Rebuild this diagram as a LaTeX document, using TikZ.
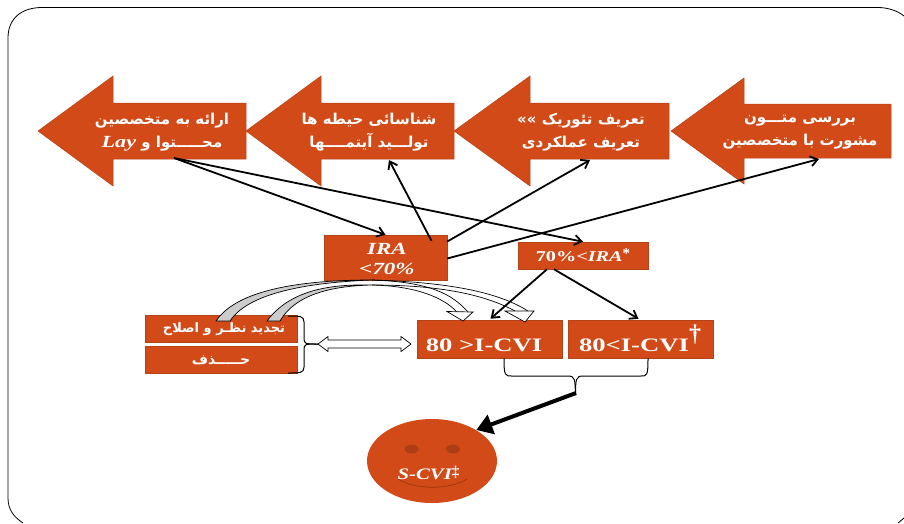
\documentclass[tikz,border=0pt]{standalone}
\usepackage{graphicx}
\usepackage{fontspec}
\usetikzlibrary{arrows.meta,shapes.geometric,calc}
\setmainfont{Liberation Serif}
\newfontfamily\fa[Script=Arabic]{DejaVu Sans}
\TeXXeTstate=1
\definecolor{rust}{HTML}{D14A17}
\definecolor{rustdk}{HTML}{B5431A}
\definecolor{eye}{HTML}{AE3D14}
\definecolor{smile}{HTML}{9E3610}
\newcommand{\R}[1]{{\fa\bfseries\beginR #1\endR}}
\newcommand{\Lat}[1]{\beginL #1\endL{}}
\newcommand{\sx}[2]{\scalebox{#1}[1]{#2}}
\tikzset{
  x=1pt,y=-1pt,
  shp/.style={fill=rust,draw=rustdk,line width=.5pt},
  lab/.style={text=white,align=center,font=\fa\bfseries\fontsize{15}{23}\selectfont,inner sep=0pt},
  lat/.style={text=white,inner sep=0pt,align=center,font=\rmfamily\bfseries\itshape\fontsize{17}{20}\selectfont},
  big/.style={text=white,inner sep=0pt,font=\rmfamily\bfseries\fontsize{19}{20}\selectfont},
  arr/.style={line width=1.8pt,-{Straight Barb[length=7pt,width=10pt,line width=1.8pt]}},
  hollow/.style={draw=black,fill=white,line width=.7pt},
  ribbon/.style={draw=black,fill=lightgray!80,line width=.7pt},
  shaft/.style={draw=black,line width=.7pt},
  bracestyle/.style={line width=1pt},
}
\begin{document}
\begin{tikzpicture}
\useasboundingbox (0,0) rectangle (904,523);
% frame
\draw[line width=.8pt,black] (23,523) .. controls (14,517) and (8,510) .. (8,498) -- (8,38) .. controls (8,18) and (22,7.5) .. (42,7.5) -- (878,7.5) .. controls (888,7.5) and (898,11) .. (904,16);
\draw[line width=.8pt,black] (898,523) -- (904,518);
% arrows
\path[shp] (38,131) -- (113,76) -- (113,103) -- (246,103) -- (246,159) -- (113,159) -- (113,186) -- cycle;
\path[shp] (246,131) -- (321,76) -- (321,103) -- (454,103) -- (454,159) -- (321,159) -- (321,186) -- cycle;
\path[shp] (454,131) -- (530,76) -- (530,103) -- (669,103) -- (669,159) -- (530,159) -- (530,186) -- cycle;
\path[shp] (671,131) -- (744,78) -- (744,104) -- (891,104) -- (891,158) -- (744,158) -- (744,184) -- cycle;
\node[lab] (a1) at (162,132) {\R{ارائه به متخصصین}\\\R{محـــــتوا و \Lat{\sx{1.3}{\fontsize{17}{20}\rmfamily\bfseries\itshape Lay}}}};
\node[lab] (a2) at (369,132) {\R{شناسائی حیطه ها}\\\R{تولـــید آیتمــــها}};
\node[lab] (a3) at (581,132) {\R{تعریف تئوریک »»}\\\R{تعریف عملکردی}};
\node[lab] (a4) at (800,132) {\R{بررسی متـــون}\\\R{مشورت با متخصصین}};
\coordinate (a1bot) at (174,158);
\coordinate (a2in) at (389,160);
\coordinate (a3in) at (590,160);
\coordinate (a4in) at (819,159);
% boxes
\node[shp,minimum width=123pt,minimum height=45pt,inner sep=0pt] (ira) at (385.5,257.5) {};
\node[lat] at (387,258.5) {\sx{1.35}{IRA}\\\sx{1.35}{<70\%}};
\node[shp,minimum width=130pt,minimum height=27pt,inner sep=0pt] (ira2) at (583,255.5) {};
\node[lat,font=\rmfamily\bfseries\fontsize{15}{18}\selectfont] at (583,255.5) {\sx{1.35}{70\%<\itshape IRA}\raisebox{.45ex}{\fontsize{15}{15}\selectfont *}};
\node[shp,minimum width=152pt,minimum height=27pt,inner sep=0pt] (fix) at (221,328.5) {};
\node[lab,font=\fa\bfseries\fontsize{13}{14}\selectfont] at (224,329) {\R{تجدید نظـر و اصلاح}};
\node[shp,minimum width=152pt,minimum height=27pt,inner sep=0pt] (del) at (221,360) {};
\node[lab,font=\fa\bfseries\fontsize{14}{15}\selectfont] at (221,360) {\R{حـــــذف}};
\node[shp,minimum width=145pt,minimum height=38pt,inner sep=0pt] (low) at (489.5,339) {};
\node[big] at (484,345) {\sx{1.4}{80 >I-CVI}};
\node[shp,minimum width=145pt,minimum height=38pt,inner sep=0pt] (high) at (640.5,339) {};
\node[big] at (634,345) {\sx{1.4}{80<I-CVI}};
\node[big,font=\rmfamily\bfseries\fontsize{24}{24}\selectfont] at (695,335) {\textdagger};
% smile
\node[shp,draw=none,ellipse,minimum width=130pt,minimum height=84pt,inner sep=0pt,fill=rust] (face) at (432,461) {};
\fill[eye] (411.5,449) ellipse (7 and 4.5);
\fill[eye] (453,449) ellipse (7 and 4.5);
\draw[smile,line width=.7pt] (398,479) .. controls (415,490) and (450,490) .. (467,479);
\node[lat,font=\rmfamily\bfseries\itshape\fontsize{16}{18}\selectfont] at (428.5,473) {\sx{1.3}{S-CVI}\raisebox{.45ex}{\fontsize{15}{15}\selectfont\upshape\textdaggerdbl}};
% connectors
\draw[arr] (a1bot) -- (ira.north);
\draw[arr] (a1bot) -- (ira2.north);
\draw[arr] ($(ira.north)+(46,6)$) -- (a2in);
\draw[arr] ($(ira.east)+(0,-16)$) -- (a3in);
\draw[arr] ($(ira.east)+(0,1)$) -- (a4in);
\draw[arr] ($(ira2.south)+(-36,0)$) -- ($(low.north)+(1,-1)$);
\draw[arr] ($(ira2.south)+(-29,0)$) -- ($(high.north)+(-2,-1)$);
% braces
\draw[bracestyle] (288,316) .. controls (300,316) and (304,316) .. (304,322) -- (304,338) .. controls (304,344) and (305,344) .. (318,344);
\draw[bracestyle] (288,373) .. controls (300,373) and (304,373) .. (304,367) -- (304,350) .. controls (304,344) and (305,344) .. (318,344);
\draw[bracestyle] (504,358) .. controls (504,376) and (505,376) .. (512,376) -- (568,376) .. controls (575,376) and (575,379) .. (575.5,395);
\draw[bracestyle] (648,358) .. controls (648,376) and (647,376) .. (641,376) -- (583,376) .. controls (576,376) and (575.5,379) .. (575.5,395);
% double arrow
\draw[hollow] (318,344) -- (328,336.5) -- (328,340) -- (401,340) -- (401,336.5) -- (411,344) -- (401,351.5) -- (401,348) -- (328,348) -- (328,351.5) -- cycle;
% thick
\draw[line width=4pt,-{Triangle[length=16pt,width=20pt]}] (576,393) -- (face.35);
% curved hollow arrows
\path[ribbon] (216,321) .. controls (240,285) and (320,280) .. (372,280) .. controls (320,282) and (250,290) .. (230,321) -- cycle;
\path[ribbon] (267,321) .. controls (290,290) and (330,284) .. (372,285) .. controls (330,286) and (295,295) .. (280,321) -- cycle;
\draw[shaft] (372,280) .. controls (430,282) and (452,294) .. (468,312);
\draw[shaft] (372,285) .. controls (415,286) and (443,297) .. (457,312);
\draw[shaft] (372,280) .. controls (440,282) and (495,290) .. (528,311);
\draw[shaft] (372,285) .. controls (430,285) and (480,292) .. (515,311);
\path[hollow] (447,311.5) -- (473,312) -- (463,321) -- cycle;
\path[hollow] (505,311) -- (534,311) -- (525,322) -- cycle;
\end{tikzpicture}
\end{document}
